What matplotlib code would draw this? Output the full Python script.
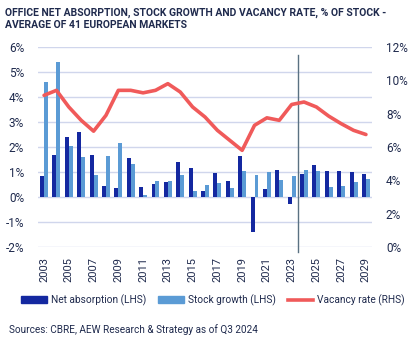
import matplotlib
matplotlib.use("Agg")
import matplotlib.pyplot as plt
from matplotlib.lines import Line2D
from matplotlib.patches import Patch
import numpy as np

# data
years = list(range(2003, 2030))
net_absorption = [0.84, 1.68, 2.40, 2.60, 1.68, 0.44, 0.36, 1.56, 0.40, 0.52,
                  0.60, 1.40, 1.16, 0.24, 0.96, 0.64, 1.64, -1.38, 0.32, 1.08,
                  -0.28, 0.92, 1.28, 1.04, 1.04, 1.00, 0.92]
stock_growth = [4.60, 5.40, 2.04, 1.60, 0.88, 1.64, 2.16, 1.32, 0.08, 0.64,
                0.64, 0.88, 0.24, 0.48, 0.56, 0.36, 1.04, 0.88, 1.00, 0.68,
                0.84, 1.08, 1.04, 0.40, 0.44, 0.60, 0.72]
vacancy_rate = [9.1, 9.4, 8.4, 7.6, 6.95, 7.9, 9.4, 9.4, 9.25, 9.4,
                9.8, 9.3, 8.4, 7.8, 7.0, 6.4, 5.8, 7.3, 7.75, 7.6,
                8.55, 8.7, 8.4, 7.85, 7.4, 7.0, 6.75]
forecast_start = 2023.5

TEXT = '#1f2a4d'
DARK = '#1428a0'
LIGHT = '#5b9bd5'
RED = '#f05a5a'
GRID = '#d0d6ec'

plt.rcParams['font.family'] = ['Roboto', 'DejaVu Sans']

fig = plt.figure(figsize=(4.12, 3.42), dpi=100)
ax = fig.add_axes([38 / 412, 1 - 247 / 342, 334 / 412, 200 / 342])
ax2 = ax.twinx()

x = np.array(years)
ax.bar(x - 0.16, net_absorption, width=0.32, color=DARK, zorder=3)
ax.bar(x + 0.16, stock_growth, width=0.32, color=LIGHT, zorder=3)
ax2.plot(x, vacancy_rate, color=RED, lw=2.6, solid_joinstyle='round',
         solid_capstyle='round', zorder=4)

ax.set_xlim(2003 - 0.49, 2029 + 0.49)
ax.set_ylim(-2, 6)
ax.set_yticks(range(-2, 7))
ax.set_yticklabels([f'{v}%' for v in range(-2, 7)])
ax2.set_ylim(0, 12)
ax2.set_yticks(range(0, 13, 2))
ax2.set_yticklabels([f'{v}%' for v in range(0, 13, 2)])

ax.set_xticks(years[::2])
ax.set_xticklabels([str(y) for y in years[::2]], rotation=90)

ax.grid(axis='y', color=GRID, lw=1.0, zorder=0)
for a in (ax, ax2):
    for s in a.spines.values():
        s.set_visible(False)
    a.tick_params(length=0, colors=TEXT, labelsize=8.5)
ax.tick_params(axis='y', pad=10)
ax2.tick_params(axis='y', pad=10)
ax.tick_params(axis='x', pad=7, labelsize=8)

ax.axvline(forecast_start, ymin=-0.025, ymax=0.96, color='#5a7182', lw=1,
           clip_on=False, zorder=5)

fig.text(5 / 412, 1 - 8 / 342,
         'OFFICE NET ABSORPTION, STOCK GROWTH AND VACANCY RATE, % OF STOCK -\n'
         'AVERAGE OF 41 EUROPEAN MARKETS',
         ha='left', va='top', fontsize=7.5, fontweight='bold', color=TEXT,
         linespacing=1.2)

handles = [Patch(color=DARK, label='Net absorption (LHS)'),
           Patch(color=LIGHT, label='Stock growth (LHS)'),
           Line2D([0], [0], color=RED, lw=2.6, label='Vacancy rate (RHS)')]
fig.legend(handles=handles, loc='center', bbox_to_anchor=(213 / 412, 1 - 300 / 342),
           ncol=3, frameon=False, fontsize=7.3, handlelength=2.5,
           handleheight=0.6, columnspacing=1.2, handletextpad=0.4,
           labelcolor=TEXT)

fig.text(9 / 412, 1 - 330 / 342,
         'Sources: CBRE, AEW Research & Strategy as of Q3 2024',
         ha='left', va='center', fontsize=7.2, color=TEXT)

fig.savefig('out.png', dpi=100)
